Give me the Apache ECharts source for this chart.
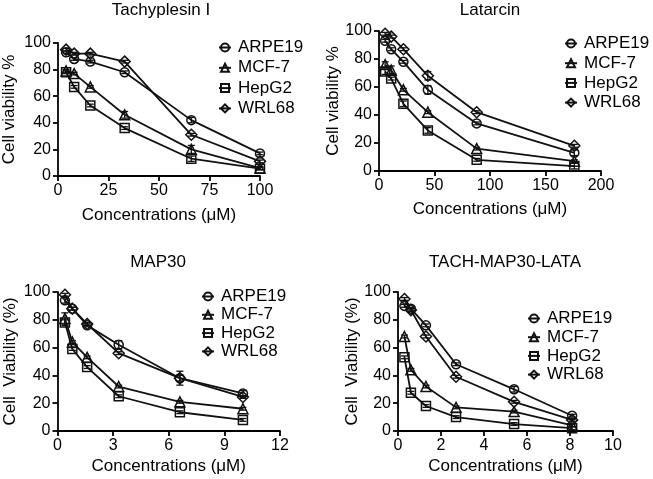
<!DOCTYPE html>
<html><head><meta charset="utf-8">
<script src="https://cdn.jsdelivr.net/npm/echarts@6/dist/echarts.min.js"></script>
<style>html,body{margin:0;padding:0;background:#fff}#c{width:653px;height:479px}</style>
</head><body><div id="c"></div>
<script>
// ---- data ----
const cellLines = ['ARPE19', 'MCF-7', 'HepG2', 'WRL68'];
const panelTitles = ['Tachyplesin I', 'Latarcin', 'MAP30', 'TACH-MAP30-LATA'];
const yNames = ['Cell viability %', 'Cell viability %', 'Cell  Viability (%)', 'Cell  Viability (%)'];
const xName = 'Concentrations (\u03bcM)';
const xMax = [100, 200, 12, 10];
const xStep = [25, 50, 3, 2];
const yTicks = [0, 20, 40, 60, 80, 100];

// Tachyplesin I
const tachX = [4, 8, 16, 33, 66, 100];
const tachARPE19 = [93, 88, 86, 78, 42, 17];
const tachMCF7 = [79, 77, 67, 46, 20, 6];
const tachHepG2 = [78, 67, 53, 36, 13, 5.5];
const tachWRL68 = [95, 92, 92, 86, 31, 11];
const tachErrARPE19 = [1, 1, 1, 1, 2, 1];
const tachErrMCF7 = [1, 1, 1, 2.5, 3, 1];
const tachErrHepG2 = [1, 1, 1, 1, 2, 1];
const tachErrWRL68 = [1, 1, 1, 1, 1, 1];

// Latarcin
const lataX = [5.5, 11, 22, 44, 88, 176];
const lataARPE19 = [93, 87, 78, 58, 34, 13];
const lataMCF7 = [76, 72, 58, 42, 16, 7];
const lataHepG2 = [71, 66, 48, 29, 8, 3.5];
const lataWRL68 = [98, 96, 87, 68, 42, 18];
const lataErrARPE19 = [1, 1, 1, 3, 1, 2];
const lataErrMCF7 = [2, 3, 1, 1, 1, 1];
const lataErrHepG2 = [2, 1, 2, 2, 1, 2];
const lataErrWRL68 = [1, 1, 1, 3, 1, 1];

// MAP30
const mapX = [0.4, 0.8, 1.6, 3.3, 6.6, 10];
const mapARPE19 = [94, 88, 76, 62, 38, 27];
const mapMCF7 = [81, 64, 53, 32, 21, 16];
const mapHepG2 = [78, 59, 46, 25, 13.5, 8];
const mapWRL68 = [98, 88, 77, 56, 38, 24.5];
const mapErrARPE19 = [2, 1, 1, 3, 5, 2];
const mapErrMCF7 = [4, 1, 1, 1, 1, 1];
const mapErrHepG2 = [2, 1, 1, 1, 1, 1];
const mapErrWRL68 = [1, 1, 1, 1, 2, 1];

// TACH-MAP30-LATA
const tmlX = [0.3, 0.6, 1.3, 2.7, 5.4, 8.1];
const tmlARPE19 = [90, 88, 76, 48, 30, 11];
const tmlMCF7 = [68, 44, 32, 17, 14, 4];
const tmlHepG2 = [53, 27.5, 18, 10, 5, 2];
const tmlWRL68 = [95, 87, 68, 39, 21, 8];
const tmlErrARPE19 = [1, 1, 1, 1, 2, 1];
const tmlErrMCF7 = [1, 1, 1, 1, 1, 1];
const tmlErrHepG2 = [1, 1, 1, 1, 1, 1];
const tmlErrWRL68 = [1, 1, 1, 1, 1, 1];

const panels = [
  { x: tachX, ys: [tachARPE19, tachMCF7, tachHepG2, tachWRL68], es: [tachErrARPE19, tachErrMCF7, tachErrHepG2, tachErrWRL68] },
  { x: lataX, ys: [lataARPE19, lataMCF7, lataHepG2, lataWRL68], es: [lataErrARPE19, lataErrMCF7, lataErrHepG2, lataErrWRL68] },
  { x: mapX, ys: [mapARPE19, mapMCF7, mapHepG2, mapWRL68], es: [mapErrARPE19, mapErrMCF7, mapErrHepG2, mapErrWRL68] },
  { x: tmlX, ys: [tmlARPE19, tmlMCF7, tmlHepG2, tmlWRL68], es: [tmlErrARPE19, tmlErrMCF7, tmlErrHepG2, tmlErrWRL68] }
];

// ---- layout / style ----
const FONT = 'Liberation Sans, Arial, sans-serif';
const symbols = ['circle', 'triangle', 'rect', 'diamond'];
const symSizes = [9, 10, 9, 11];
const grids = [
  { left: 57.5, top: 43, width: 202.5, height: 133 },
  { left: 379, top: 31, width: 222, height: 140 },
  { left: 57.5, top: 292, width: 222.5, height: 139 },
  { left: 398, top: 292, width: 215, height: 139 }
];
const titlePos = [[161, 2], [490, 2], [158, 254], [505, 254]];
const xNameGap = [31, 30, 27, 27];
const yNameGap = [40, 34, 39, 36];
const legendPos = [
  { left: 218, top: 39, itemGap: 3.3 },
  { left: 564, top: 35, itemGap: 2.7 },
  { left: 201, top: 288, itemGap: 1.3 },
  { left: 527, top: 310, itemGap: 1.7 }
];

function errRender(params, api) {
  const x = api.value(0), y = api.value(1), e = api.value(2);
  if (!e) return null;
  const t = api.coord([x, y + e]), b = api.coord([x, y - e]);
  const hw = 3.5, st = { stroke: '#111', lineWidth: 1.3 };
  return {
    type: 'group', children: [
      { type: 'line', shape: { x1: t[0], y1: t[1], x2: b[0], y2: b[1] }, style: st },
      { type: 'line', shape: { x1: t[0] - hw, y1: t[1], x2: t[0] + hw, y2: t[1] }, style: st },
      { type: 'line', shape: { x1: b[0] - hw, y1: b[1], x2: b[0] + hw, y2: b[1] }, style: st }
    ]
  };
}

const xAxis = [], yAxis = [], series = [], legend = [], graphic = [];
panels.forEach((p, i) => {
  xAxis.push({
    type: 'value', gridIndex: i, min: 0, max: xMax[i], interval: xStep[i],
    name: xName, nameLocation: 'middle', nameGap: xNameGap[i],
    nameTextStyle: { fontSize: 17, color: '#000', fontFamily: FONT },
    axisLine: { lineStyle: { color: '#000', width: 1.8 } },
    axisTick: { length: 5, lineStyle: { color: '#000', width: 1.8 } },
    axisLabel: { fontSize: 16, color: '#000', fontFamily: FONT, margin: 7 },
    splitLine: { show: false }
  });
  yAxis.push({
    type: 'value', gridIndex: i, min: 0, max: 100, interval: yTicks[1] - yTicks[0],
    name: yNames[i], nameLocation: 'middle', nameGap: yNameGap[i],
    nameTextStyle: { fontSize: 17, color: '#000', fontFamily: FONT },
    axisLine: { show: true, lineStyle: { color: '#000', width: 1.8 } },
    axisTick: { show: true, length: 5, lineStyle: { color: '#000', width: 1.8 } },
    axisLabel: { fontSize: 16, color: '#000', fontFamily: FONT, margin: 7 },
    splitLine: { show: false }
  });
  cellLines.forEach((name, k) => {
    series.push({
      type: 'custom', name: name + ' error', xAxisIndex: i, yAxisIndex: i,
      renderItem: errRender, encode: { x: 0, y: 1 }, z: 1, silent: true,
      data: p.x.map((xv, j) => [xv, p.ys[k][j], p.es[k][j]])
    });
    series.push({
      type: 'line', name: name, xAxisIndex: i, yAxisIndex: i,
      data: p.x.map((xv, j) => [xv, p.ys[k][j]]),
      symbol: symbols[k], symbolSize: symSizes[k], showSymbol: true,
      lineStyle: { color: '#111', width: 1.8 },
      itemStyle: { color: 'rgba(255,255,255,0)', borderColor: '#111', borderWidth: 1.5 },
      emphasis: { disabled: true }, animation: false, z: 2
    });
  });
  legend.push({
    data: cellLines, orient: 'vertical', left: legendPos[i].left, top: legendPos[i].top,
    itemGap: legendPos[i].itemGap, itemWidth: 12, itemHeight: 10, padding: 0,
    textStyle: { fontSize: 17, color: '#000', fontFamily: FONT, lineHeight: 16, padding: [0, 0, 0, 2] },
    selectedMode: false
  });
  graphic.push({
    type: 'text', x: titlePos[i][0], y: titlePos[i][1],
    style: { text: panelTitles[i], fill: '#000', font: '17px ' + FONT, textAlign: 'center', textVerticalAlign: 'top' }
  });
});

const chart = echarts.init(document.getElementById('c'), null, { renderer: 'canvas' });
chart.setOption({
  backgroundColor: '#fff', animation: false,
  grid: grids.map(g => Object.assign({ containLabel: false }, g)),
  xAxis, yAxis, series, legend, graphic
});
</script></body></html>
